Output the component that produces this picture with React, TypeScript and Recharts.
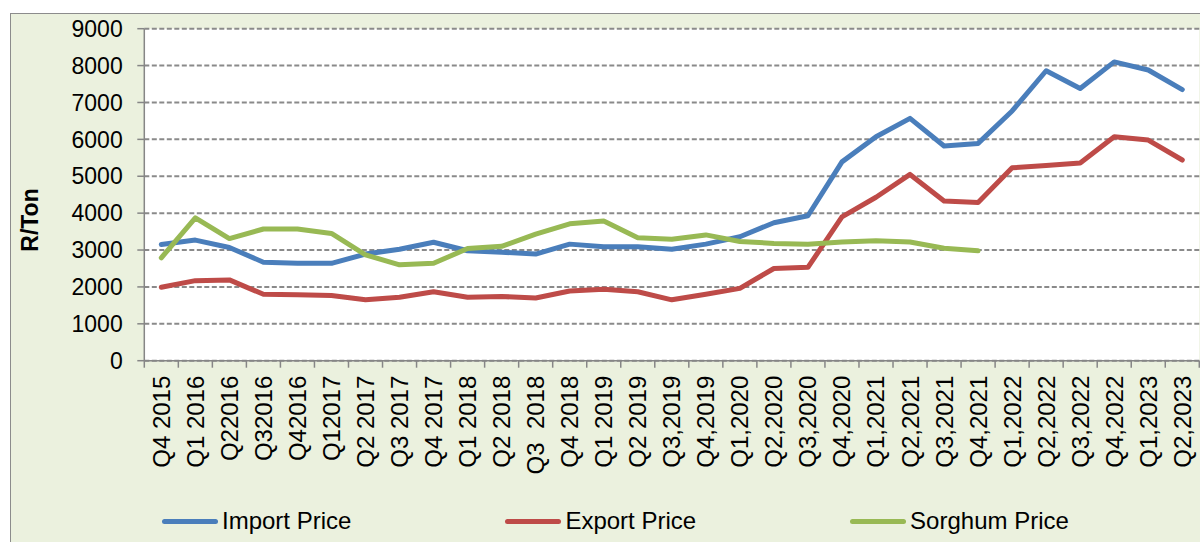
import { LineChart, Line, XAxis, YAxis, CartesianGrid } from "recharts";

const quarters = [
  "Q4 2015", "Q1 2016", "Q22016", "Q32016", "Q42016", "Q12017", "Q2 2017", "Q3 2017",
  "Q4 2017", "Q1 2018", "Q2 2018", "Q3  2018", "Q4 2018", "Q1 2019", "Q2 2019", "Q3,2019",
  "Q4,2019", "Q1,2020", "Q2,2020", "Q3,2020", "Q4,2020", "Q1,2021", "Q2,2021", "Q3,2021",
  "Q4,2021", "Q1,2022", "Q2,2022", "Q3,2022", "Q4,2022", "Q1,2023", "Q2,2023",
];

const importPrice = [
  3150, 3270, 3070, 2670, 2640, 2640, 2890, 3020, 3210, 2980, 2940, 2890, 3160, 3090, 3090, 3020,
  3160, 3360, 3740, 3930, 5390, 6070, 6570, 5820, 5890, 6770, 7860, 7380, 8100, 7880, 7350,
];

const exportPrice = [
  1990, 2170, 2190, 1800, 1790, 1770, 1650, 1720, 1870, 1720, 1740, 1700, 1890, 1940, 1870, 1650,
  1800, 1960, 2500, 2530, 3900, 4430, 5050, 4330, 4290, 5230, 5290, 5360, 6070, 5980, 5440,
];

const sorghumPrice = [
  2790, 3870, 3310, 3570, 3570, 3450, 2870, 2600, 2640, 3040, 3100, 3430, 3710, 3790, 3330, 3290,
  3410, 3230, 3180, 3160, 3220, 3250, 3220, 3050, 2980, null, null, null, null, null, null,
];

const yTicks = [0, 1000, 2000, 3000, 4000, 5000, 6000, 7000, 8000, 9000];

const series = [
  { key: "importPrice", name: "Import Price", color: "#4a7ebb" },
  { key: "exportPrice", name: "Export Price", color: "#be4b48" },
  { key: "sorghumPrice", name: "Sorghum Price", color: "#98b954" },
];

const data = quarters.map((quarter, i) => ({
  quarter,
  importPrice: importPrice[i],
  exportPrice: exportPrice[i],
  sorghumPrice: sorghumPrice[i],
}));

const FONT = "'Liberation Sans', Arial, sans-serif";
const AXIS = "#868686";
const BAND = 1055 / quarters.length;

function QuarterTick(props: any) {
  const { x, y, payload, index } = props;
  const axisY = y - 11;
  const isLast = index === quarters.length - 1;
  return (
    <g>
      <line x1={x - BAND / 2} x2={x - BAND / 2} y1={axisY} y2={axisY + 7} stroke={AXIS} strokeWidth={1.5} />
      {isLast && (
        <line x1={x + BAND / 2} x2={x + BAND / 2} y1={axisY} y2={axisY + 7} stroke={AXIS} strokeWidth={1.5} />
      )}
      <text
        x={x}
        y={y + 4}
        transform={`rotate(-90, ${x}, ${y + 4})`}
        textAnchor="end"
        dominantBaseline="central"
        fontFamily={FONT}
        fontSize={24}
        fill="#000"
        xmlSpace="preserve"
        style={{ whiteSpace: "pre" }}
      >
        {payload.value}
      </text>
    </g>
  );
}

function AxisTitle() {
  return (
    <text
      x={30}
      y={220}
      transform="rotate(-90, 30, 220)"
      textAnchor="middle"
      dominantBaseline="central"
      fontFamily={FONT}
      fontSize={23}
      fontWeight="bold"
      fill="#000"
    >
      R/Ton
    </text>
  );
}

export default function App() {
  return (
    <div style={{ position: "absolute", left: 0, top: 0, width: 1200, height: 542, overflow: "hidden", background: "#fff" }}>
      <div
        style={{
          position: "absolute",
          left: 10,
          top: 13,
          width: 1200,
          height: 560,
          border: "1.5px solid #8c8c8c",
          background: "#ebf1de",
        }}
      />
      <div style={{ position: "absolute", left: 0, top: 0 }}>
        <LineChart width={1200} height={542} data={data} margin={{ top: 28.7, right: 0.7, bottom: 0, left: 0 }}>
          <CartesianGrid
            vertical={false}
            fill="#fff"
            stroke="#8a8a8a"
            strokeWidth={2}
            strokeDasharray="5 2.5"
            horizontalValues={yTicks}
          />
          <XAxis
            dataKey="quarter"
            interval={0}
            height={181.3}
            padding={{ left: BAND / 2, right: BAND / 2 }}
            tickSize={7}
            tickMargin={4}
            tickLine={false}
            axisLine={{ stroke: AXIS, strokeWidth: 1.5 }}
            tick={<QuarterTick />}
          />
          <YAxis
            width={144.3}
            domain={[0, 9000]}
            ticks={yTicks}
            interval={0}
            tickSize={7}
            tickMargin={14.6}
            axisLine={{ stroke: AXIS, strokeWidth: 1.5 }}
            tickLine={{ stroke: AXIS, strokeWidth: 1.5 }}
            tick={{ fontFamily: FONT, fontSize: 23, fill: "#000" }}
            label={<AxisTitle />}
          />
          {series.map((s) => (
            <Line
              key={s.key}
              type="linear"
              dataKey={s.key}
              name={s.name}
              stroke={s.color}
              strokeWidth={5}
              strokeLinejoin="round"
              strokeLinecap="round"
              dot={false}
              activeDot={false}
              isAnimationActive={false}
            />
          ))}
        </LineChart>
      </div>
      <div
        style={{
          position: "absolute",
          left: 162,
          top: 507,
          display: "flex",
          alignItems: "center",
          gap: 154,
          fontFamily: FONT,
          fontSize: 24,
          color: "#000",
          whiteSpace: "nowrap",
        }}
      >
        {series.map((s) => (
          <div key={s.key} style={{ display: "flex", alignItems: "center" }}>
            <span style={{ display: "inline-block", width: 56, height: 5, borderRadius: 3, background: s.color, marginRight: 4 }} />
            <span>{s.name}</span>
          </div>
        ))}
      </div>
    </div>
  );
}
